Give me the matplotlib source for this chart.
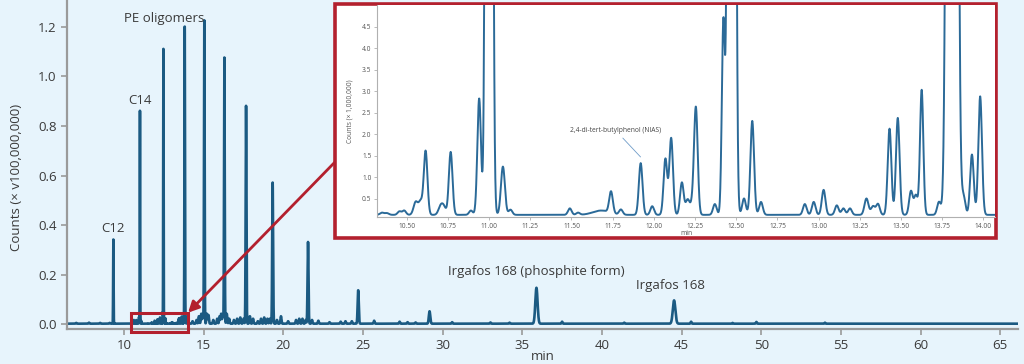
import numpy as np
import matplotlib
matplotlib.use("Agg")
import matplotlib.pyplot as plt
from matplotlib.patches import Rectangle

# ---------------- data ----------------
# main chromatogram: large peaks (retention time, height x1e8, sigma min)
main_peak_t = [9.33, 11.00, 12.472, 13.81, 15.04, 16.30, 17.66, 19.33, 21.55, 24.70, 29.18, 35.89, 44.53]
main_peak_h = [0.34, 0.86, 1.11, 1.20, 1.225, 1.075, 0.88, 0.57, 0.33, 0.135, 0.05, 0.145, 0.094]
main_peak_w = [0.014, 0.0125, 0.0132, 0.018, 0.02, 0.022, 0.025, 0.028, 0.03, 0.035, 0.045, 0.07, 0.08]

# main chromatogram: small peaks outside the zoomed window (height x1e8)
small_peak_t = [7.0, 7.8, 8.5, 9.1, 14.3, 14.55, 14.7, 14.85, 14.95, 15.2, 15.3, 15.6, 15.85,
                16.0, 16.1, 16.2, 16.45, 16.6, 16.9, 17.1, 17.3, 17.5, 17.9, 18.1, 18.4, 18.6,
                18.8, 19.0, 19.15, 19.6, 19.85, 20.3, 20.8, 21.0, 21.2, 21.4, 21.8, 22.2, 22.9,
                23.6, 23.9, 24.3, 25.7, 27.3, 27.8, 28.3, 30.6, 33.0, 34.2, 37.5, 41.4, 45.6,
                48.2, 49.7, 54.0]
small_peak_h = [0.003, 0.004, 0.003, 0.003, 0.01, 0.015, 0.03, 0.04, 0.035, 0.04, 0.035, 0.015, 0.02,
                0.03, 0.04, 0.035, 0.04, 0.02, 0.015, 0.02, 0.025, 0.02, 0.03, 0.02, 0.01, 0.02,
                0.025, 0.02, 0.02, 0.015, 0.03, 0.01, 0.015, 0.02, 0.02, 0.015, 0.015, 0.012, 0.006,
                0.008, 0.01, 0.01, 0.012, 0.008, 0.006, 0.005, 0.006, 0.005, 0.004, 0.008, 0.004, 0.008,
                0.003, 0.007, 0.004]

# zoomed window 10.3-14.1 min: minor peaks (retention time, height x1e6, sigma min)
inset_peak_t = [10.35, 10.38, 10.456, 10.485, 10.555, 10.585, 10.615, 10.705, 10.725, 10.767,
                10.89, 10.94, 11.084, 11.13, 11.49, 11.54, 11.68, 11.74, 11.80, 11.92, 11.99,
                12.07, 12.105, 12.17, 12.205, 12.235, 12.255, 12.37, 12.422, 12.547, 12.597,
                12.65, 12.916, 12.97, 13.03, 13.11, 13.15, 13.19, 13.29, 13.33, 13.36, 13.43,
                13.48, 13.56, 13.59, 13.625, 13.73, 13.879, 13.93, 13.98]
inset_peak_h = [0.05, 0.04, 0.08, 0.1, 0.3, 0.3, 1.48, 0.18, 0.18, 1.46,
                0.1, 2.7, 1.12, 0.12, 0.15, 0.05, 0.1, 0.5, 0.12, 1.2, 0.2,
                1.3, 1.78, 0.75, 0.35, 0.25, 2.45, 0.25, 4.5, 0.38, 2.18,
                0.3, 0.25, 0.3, 0.58, 0.22, 0.15, 0.15, 0.38, 0.2, 0.25, 2.0,
                2.25, 0.55, 0.45, 2.9, 0.3, 0.42, 1.4, 2.75]
inset_peak_w = [0.012, 0.012, 0.011, 0.011, 0.013, 0.012, 0.011, 0.013, 0.013, 0.011,
                0.011, 0.011, 0.012, 0.011, 0.011, 0.011, 0.05, 0.011, 0.011, 0.011, 0.011,
                0.011, 0.011, 0.011, 0.012, 0.012, 0.011, 0.011, 0.0095, 0.011, 0.011,
                0.011, 0.011, 0.011, 0.011, 0.011, 0.011, 0.011, 0.012, 0.012, 0.011, 0.011,
                0.011, 0.011, 0.011, 0.010, 0.011, 0.011, 0.011, 0.011]
inset_baseline = 0.13  # x1e6

main_xticks = [10, 15, 20, 25, 30, 35, 40, 45, 50, 55, 60, 65]
main_yticks = [0.0, 0.2, 0.4, 0.6, 0.8, 1.0, 1.2]
inset_xticks = [10.50, 10.75, 11.00, 11.25, 11.50, 11.75, 12.00, 12.25, 12.50, 12.75, 13.00, 13.25, 13.50, 13.75, 14.00]
inset_yticks = [0.5, 1.0, 1.5, 2.0, 2.5, 3.0, 3.5, 4.0, 4.5]

labels_main = ["C12", "C14", "PE oligomers", "Irgafos 168 (phosphite form)", "Irgafos 168"]
labels_pos = [(9.32, 0.36), (11.0, 0.875), (12.53, 1.21), (35.86, 0.185), (44.3, 0.13)]


def trace(t, pt, ph, pw):
    t = np.asarray(t)[:, None]
    pt = np.asarray(pt)[None, :]
    ph = np.asarray(ph)[None, :]
    pw = np.asarray(pw)[None, :]
    return (ph * np.exp(-0.5 * ((t - pt) / pw) ** 2)).sum(axis=1)


# ---------------- styling ----------------
BG = "#e7f4fc"
LINE = "#1b5a82"
LINE2 = "#2b6a98"
RED = "#b3202e"
SPINE = "#9a9a9a"
TXT = "#3a3a3a"
plt.rcParams['font.family'] = ['Open Sans', 'DejaVu Sans']

fig = plt.figure(figsize=(10.24, 3.64), dpi=100, facecolor=BG)
ax = fig.add_axes([67 / 1024, 1 - 329 / 364, (1018 - 67) / 1024, 329 / 364])
ax.set_facecolor(BG)

# main trace
tm = np.arange(6.4, 66.2, 0.002)
all_t = main_peak_t + small_peak_t + inset_peak_t
all_h = main_peak_h + small_peak_h + [h / 100.0 for h in inset_peak_h]
all_w = main_peak_w + [0.03] * len(small_peak_t) + inset_peak_w
ym = trace(tm, all_t, all_h, all_w) + 0.0015
ax.plot(tm, ym, color=LINE, lw=1.9, solid_joinstyle='round')

ax.set_xlim(6.42, 66.12)
ax.set_ylim(-0.02, 1.309)
ax.set_xticks(main_xticks)
ax.set_yticks(main_yticks)
ax.set_yticklabels([f"{v:.1f}" for v in main_yticks])
for s in ["top", "right"]:
    ax.spines[s].set_visible(False)
for s in ["left", "bottom"]:
    ax.spines[s].set_color(SPINE)
    ax.spines[s].set_linewidth(1.6)
ax.tick_params(axis='both', colors=SPINE, labelcolor=TXT, labelsize=9.5, length=4, width=1.2)
ax.set_xlabel("min", fontsize=9.5, color=TXT, labelpad=-2)
ax.set_ylabel("Counts (× v100,000,000)", fontsize=9.5, color=TXT)
ax.yaxis.set_label_coords(-0.046, 0.46)

for txt, (x, y) in zip(labels_main, labels_pos):
    ax.text(x, y, txt, ha='center', va='bottom', fontsize=9.5, color=TXT)

# highlight rectangle in main plot
ax.add_patch(Rectangle((10.44, -0.032), 14.02 - 10.44, 0.076, fill=False,
                       edgecolor=RED, lw=2.2, clip_on=False, zorder=5))

# arrow from inset to rectangle
ax.annotate("", xy=(14.02, 0.046), xycoords='data',
            xytext=(335 / 1024, 1 - 162 / 364), textcoords='figure fraction',
            arrowprops=dict(arrowstyle='-|>', color=RED, lw=2.0, mutation_scale=16,
                            shrinkA=0, shrinkB=0),
            annotation_clip=False, zorder=6)

# inset frame
fig.patches.append(Rectangle((335 / 1024, 1 - 238 / 364), (996 - 335) / 1024, (238 - 4) / 364,
                             transform=fig.transFigure, facecolor='white', edgecolor=RED,
                             lw=2.6, zorder=2))

# inset axes
axi = fig.add_axes([377 / 1024, 1 - 217 / 364, (995 - 377) / 1024, (217 - 5) / 364])
axi.set_zorder(3)
axi.set_facecolor('white')
ti = np.arange(10.3, 14.1, 0.001)
inset_all_t = inset_peak_t + main_peak_t[1:4]
inset_all_h = inset_peak_h + [h * 100.0 for h in main_peak_h[1:4]]
inset_all_w = inset_peak_w + main_peak_w[1:4]
yi = trace(ti, inset_all_t, inset_all_h, inset_all_w) + inset_baseline
axi.plot(ti, yi, color=LINE2, lw=1.4)
axi.set_xlim(10.32, 14.07)
axi.set_ylim(0.08, 5.0)
axi.set_xticks(inset_xticks)
axi.set_xticklabels([f"{v:.2f}" for v in inset_xticks])
axi.set_yticks(inset_yticks)
axi.set_yticklabels([f"{v:.1f}" for v in inset_yticks])
for s in ["top", "right"]:
    axi.spines[s].set_visible(False)
for s in ["left", "bottom"]:
    axi.spines[s].set_color("#b0b0b0")
    axi.spines[s].set_linewidth(0.8)
axi.tick_params(axis='both', colors="#b0b0b0", labelcolor="#555555", labelsize=4.8,
                length=2.5, width=0.6, pad=1.5)
axi.set_xlabel("min", fontsize=4.8, color="#555555", labelpad=0)
axi.set_ylabel("Counts (× 1,000,000)", fontsize=4.8, color="#555555", labelpad=6)
axi.annotate("2,4-di-tert-butylphenol (NIAS)", xy=(11.925, 1.45), xytext=(11.77, 2.0),
             fontsize=4.8, color="#444444", ha='center', va='bottom',
             arrowprops=dict(arrowstyle='-', color="#6f9cc8", lw=0.6, shrinkA=1, shrinkB=1))

fig.savefig("out.png", dpi=100, facecolor=BG)
